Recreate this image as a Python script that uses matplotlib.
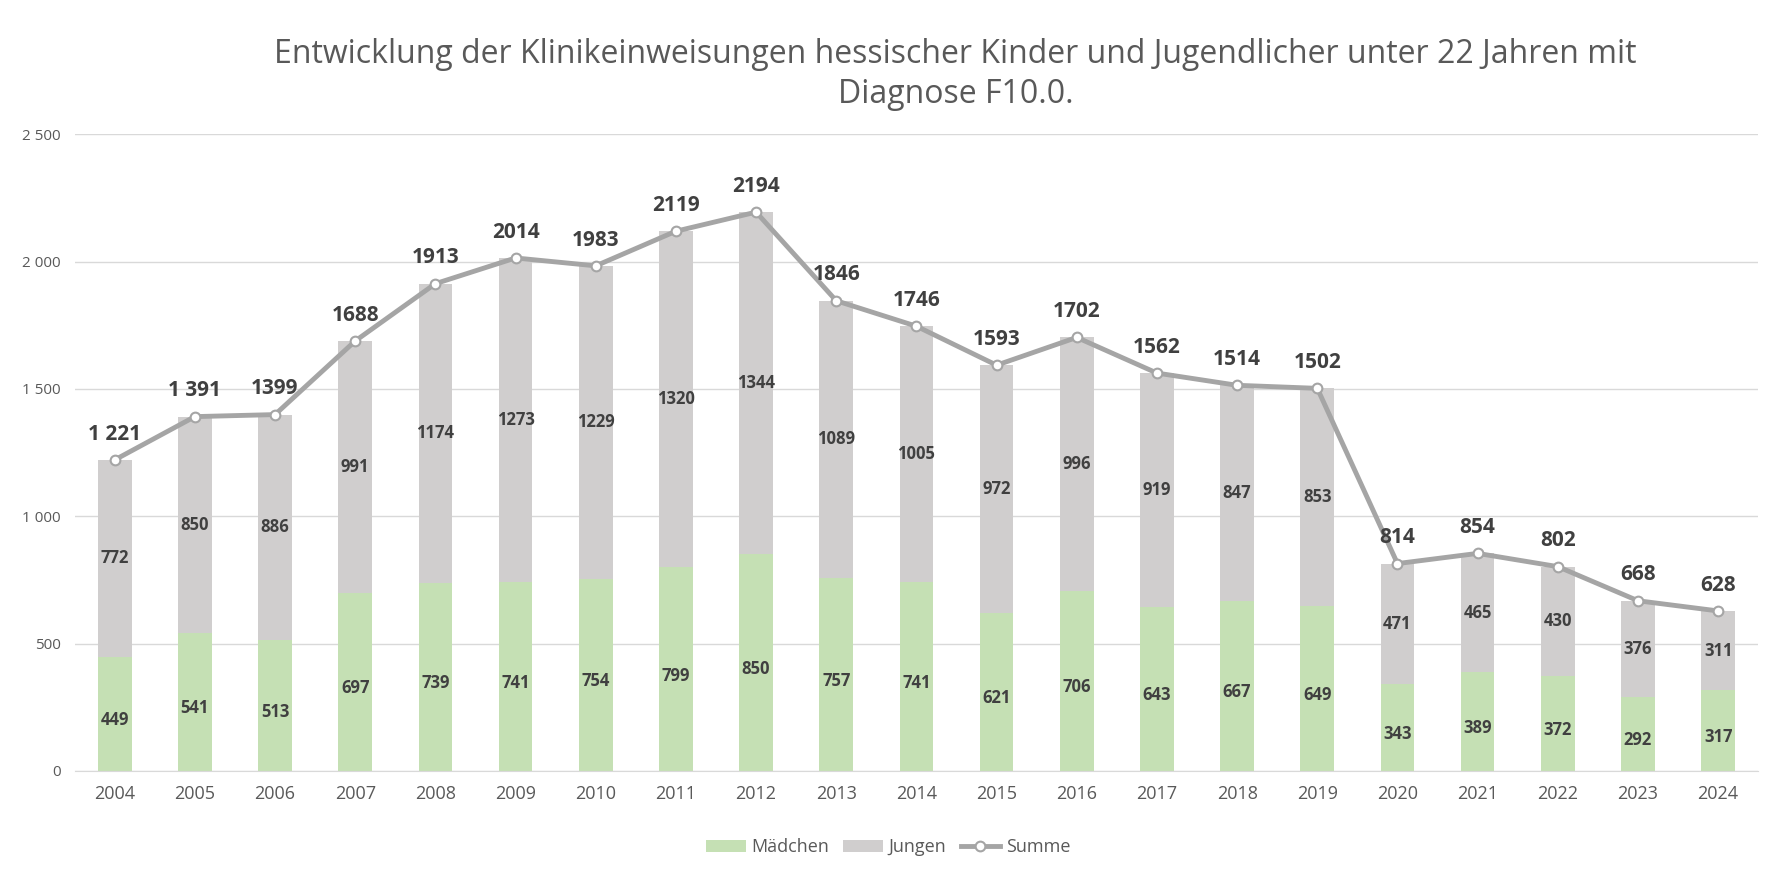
import matplotlib
matplotlib.use("Agg")
import matplotlib.pyplot as plt
import numpy as np

plt.rcParams['font.family'] = ['Open Sans', 'DejaVu Sans']

years = [str(y) for y in range(2004, 2025)]
maedchen = [449, 541, 513, 697, 739, 741, 754, 799, 850, 757, 741, 621, 706, 643, 667, 649, 343, 389, 372, 292, 317]
jungen = [772, 850, 886, 991, 1174, 1273, 1229, 1320, 1344, 1089, 1005, 972, 996, 919, 847, 853, 471, 465, 430, 376, 311]
summe = [1221, 1391, 1399, 1688, 1913, 2014, 1983, 2119, 2194, 1846, 1746, 1593, 1702, 1562, 1514, 1502, 814, 854, 802, 668, 628]
summe_labels = ["1 221", "1 391", "1399", "1688", "1913", "2014", "1983", "2119", "2194", "1846", "1746",
                "1593", "1702", "1562", "1514", "1502", "814", "854", "802", "668", "628"]
yticks = [0, 500, 1000, 1500, 2000, 2500]
ytick_labels = ["0", "500", "1 000", "1 500", "2 000", "2 500"]

fig = plt.figure(figsize=(17.76, 8.77), dpi=100)
ax = fig.add_axes([0.042, 0.121, 0.948, 0.726])
x = np.arange(len(years))
w = 0.42
b1 = ax.bar(x, maedchen, w, color='#c5e0b4', label='Mädchen', zorder=2)
b2 = ax.bar(x, jungen, w, bottom=maedchen, color='#d0cece', label='Jungen', zorder=2)
l1, = ax.plot(x, summe, color='#a5a5a5', lw=3.5, marker='o', ms=7, mfc='white', mec='#a5a5a5', mew=1.5,
              label='Summe', zorder=3)

for i in range(len(x)):
    ax.text(x[i], maedchen[i] / 2 - 25, str(maedchen[i]), ha='center', va='center', fontsize=12,
            fontweight='bold', color='#404040', zorder=4)
    ax.text(x[i], maedchen[i] + jungen[i] / 2, str(jungen[i]), ha='center', va='center', fontsize=12,
            fontweight='bold', color='#404040', zorder=4)
    ax.text(x[i], summe[i] + 60, summe_labels[i], ha='center', va='bottom', fontsize=15,
            fontweight='bold', color='#404040', zorder=4)

ax.set_ylim(0, 2500)
ax.set_xlim(-0.5, len(x) - 0.5)
ax.set_yticks(yticks)
ax.set_yticklabels(ytick_labels, fontsize=11, color='#595959')
ax.set_xticks(x)
ax.set_xticklabels(years, fontsize=13, color='#595959')
ax.grid(axis='y', color='#d9d9d9', lw=1, zorder=0)
for s in ['top', 'right', 'left']:
    ax.spines[s].set_visible(False)
ax.spines['bottom'].set_color('#d9d9d9')
ax.tick_params(length=0, pad=10)

fig.text(0.538, 0.915, "Entwicklung der Klinikeinweisungen hessischer Kinder und Jugendlicher unter 22 Jahren mit\nDiagnose F10.0.",
         ha='center', va='center', fontsize=23, color='#595959', linespacing=1.3)
fig.legend([b1, b2, l1], ['Mädchen', 'Jungen', 'Summe'], loc='lower center', bbox_to_anchor=(0.5, 0.005),
           ncol=3, frameon=False, fontsize=13, handlelength=2.2, columnspacing=0.8, handletextpad=0.3,
           labelcolor='#595959')
fig.savefig('out.png', dpi=100)
